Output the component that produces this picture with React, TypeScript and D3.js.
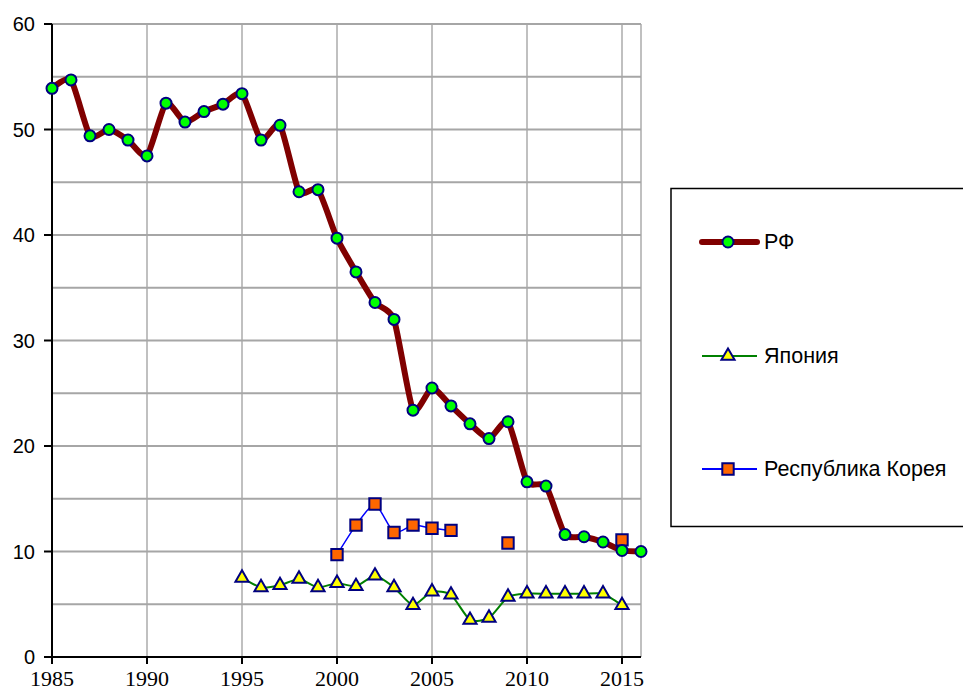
import { curveCardinal, line, range, scaleLinear, select, symbol, symbolSquare, symbolTriangle } from "d3";
import React, { useEffect, useRef } from "react";

// years on the x axis
const rfYears = range(1985, 2017);
const japanYears = range(1995, 2016);
const koreaYears = range(2000, 2016);

// series values
const rfValues = [
    53.9, 54.7, 49.4, 50.0, 49.0, 47.5, 52.5, 50.7, 51.7, 52.4, 53.4, 49.0, 50.4, 44.1, 44.3, 39.7,
    36.5, 33.6, 32.0, 23.4, 25.5, 23.8, 22.1, 20.7, 22.3, 16.6, 16.2, 11.6, 11.4, 10.9, 10.1, 10.0,
];
const japanValues = [
    7.5, 6.6, 6.8, 7.4, 6.6, 7.0, 6.7, 7.7, 6.6, 4.9, 6.2, 5.9, 3.5, 3.7, 5.7, 6.0, 6.0, 6.0, 6.0, 6.0, 4.9,
];
const koreaValues: (number | null)[] = [
    9.7, 12.5, 14.5, 11.8, 12.5, 12.2, 12.0, null, null, 10.8, null, null, null, null, null, 11.1,
];

const yTicks = [0, 10, 20, 30, 40, 50, 60];
const yGrid = range(5, 61, 5);
const xTicks = [1985, 1990, 1995, 2000, 2005, 2010, 2015];
const legendLabels = ["РФ", "Япония", "Республика Корея"];

const SANS = "'Liberation Sans', Arial, sans-serif";
const SERIF = "'Liberation Serif', 'Times New Roman', serif";

type Pt = { x: number; y: number | null };

const App: React.FC = () => {
    const svgRef = useRef<SVGSVGElement>(null);

    useEffect(() => {
        const svg = select(svgRef.current);
        svg.selectAll("*").remove();

        const x = scaleLinear().domain([1985, 2016]).range([52, 641]);
        const y = scaleLinear().domain([0, 60]).range([657, 24]);

        const g = svg.append("g");

        // vertical grid (lighter)
        g.selectAll(".vgrid")
            .data(xTicks.slice(1).concat([2016]))
            .enter()
            .append("line")
            .attr("x1", d => x(d))
            .attr("x2", d => x(d))
            .attr("y1", y(60))
            .attr("y2", y(0))
            .attr("stroke", "#c0c0c0")
            .attr("stroke-width", 2);

        // horizontal grid
        g.selectAll(".hgrid")
            .data(yGrid)
            .enter()
            .append("line")
            .attr("x1", x(1985))
            .attr("x2", x(2016))
            .attr("y1", d => y(d))
            .attr("y2", d => y(d))
            .attr("stroke", "#a6a6a6")
            .attr("stroke-width", 2);

        // axes
        g.append("line")
            .attr("x1", x(1985))
            .attr("x2", x(1985))
            .attr("y1", y(60))
            .attr("y2", y(0) + 6)
            .attr("stroke", "#000")
            .attr("stroke-width", 2);
        g.append("line")
            .attr("x1", x(1985) - 8)
            .attr("x2", x(2016))
            .attr("y1", y(0))
            .attr("y2", y(0))
            .attr("stroke", "#000")
            .attr("stroke-width", 2);

        g.selectAll(".ytick")
            .data(yTicks)
            .enter()
            .append("line")
            .attr("x1", x(1985) - 8)
            .attr("x2", x(1985))
            .attr("y1", d => y(d))
            .attr("y2", d => y(d))
            .attr("stroke", "#000")
            .attr("stroke-width", 2);
        g.selectAll(".ylabel")
            .data(yTicks)
            .enter()
            .append("text")
            .attr("x", 35)
            .attr("y", d => y(d) + 7)
            .attr("text-anchor", "end")
            .style("font-family", SANS)
            .style("font-size", "20px")
            .text(d => d);

        g.selectAll(".xtick")
            .data(xTicks)
            .enter()
            .append("line")
            .attr("x1", d => x(d))
            .attr("x2", d => x(d))
            .attr("y1", y(0))
            .attr("y2", y(0) + 7)
            .attr("stroke", "#000")
            .attr("stroke-width", 2);
        g.selectAll(".xlabel")
            .data(xTicks)
            .enter()
            .append("text")
            .attr("x", d => x(d))
            .attr("y", 686)
            .attr("text-anchor", "middle")
            .style("font-family", SERIF)
            .style("font-size", "22px")
            .text(d => d);

        const mk = line<Pt>()
            .defined(d => d.y != null)
            .x(d => x(d.x))
            .y(d => y(d.y as number))
            .curve(curveCardinal.tension(0.4));

        const rf: Pt[] = rfYears.map((yr, i) => ({ x: yr, y: rfValues[i] }));
        const jp: Pt[] = japanYears.map((yr, i) => ({ x: yr, y: japanValues[i] }));
        const kr: Pt[] = koreaYears.map((yr, i) => ({ x: yr, y: koreaValues[i] }));

        const tri = symbol().type(symbolTriangle).size(75)();
        const sq = symbol().type(symbolSquare).size(130)();

        // Korea
        g.append("path")
            .datum(kr)
            .attr("fill", "none")
            .attr("stroke", "#0000ff")
            .attr("stroke-width", 1.5)
            .attr("d", mk as any);
        // Japan
        g.append("path")
            .datum(jp)
            .attr("fill", "none")
            .attr("stroke", "#008000")
            .attr("stroke-width", 2)
            .attr("d", mk as any);
        // RF
        g.append("path")
            .datum(rf)
            .attr("fill", "none")
            .attr("stroke", "#800000")
            .attr("stroke-width", 6)
            .attr("stroke-linejoin", "round")
            .attr("d", mk as any);

        g.selectAll(".tri")
            .data(jp)
            .enter()
            .append("path")
            .attr("d", tri)
            .attr("transform", d => `translate(${x(d.x)},${y(d.y as number)})`)
            .attr("fill", "#ffff00")
            .attr("stroke", "#000080")
            .attr("stroke-width", 2);

        g.selectAll(".sq")
            .data(kr.filter(d => d.y != null))
            .enter()
            .append("path")
            .attr("d", sq)
            .attr("transform", d => `translate(${x(d.x)},${y(d.y as number)})`)
            .attr("fill", "#ff6600")
            .attr("stroke", "#000080")
            .attr("stroke-width", 2);

        g.selectAll(".dot")
            .data(rf)
            .enter()
            .append("circle")
            .attr("cx", d => x(d.x))
            .attr("cy", d => y(d.y as number))
            .attr("r", 5.5)
            .attr("fill", "#00ff00")
            .attr("stroke", "#000080")
            .attr("stroke-width", 2);

        // legend
        const lg = svg.append("g");
        lg.append("rect")
            .attr("x", 671)
            .attr("y", 188.5)
            .attr("width", 300)
            .attr("height", 338)
            .attr("fill", "#fff")
            .attr("stroke", "#000")
            .attr("stroke-width", 1.5);

        const rows = [242, 356, 469];
        const colors = ["#800000", "#008000", "#0000ff"];
        legendLabels.forEach((label, i) => {
            const cy = rows[i];
            lg.append("line")
                .attr("x1", 702)
                .attr("x2", 757)
                .attr("y1", cy)
                .attr("y2", cy)
                .attr("stroke", colors[i])
                .attr("stroke-width", i === 0 ? 6 : 2)
                .attr("stroke-linecap", i === 0 ? "round" : "butt");
            if (i === 0) {
                lg.append("circle")
                    .attr("cx", 728)
                    .attr("cy", cy)
                    .attr("r", 5.5)
                    .attr("fill", "#00ff00")
                    .attr("stroke", "#000080")
                    .attr("stroke-width", 2);
            } else {
                lg.append("path")
                    .attr("d", i === 1 ? tri : sq)
                    .attr("transform", `translate(728,${cy})`)
                    .attr("fill", i === 1 ? "#ffff00" : "#ff6600")
                    .attr("stroke", "#000080")
                    .attr("stroke-width", 2);
            }
            lg.append("text")
                .attr("x", 764)
                .attr("y", cy + 7)
                .style("font-family", SANS)
                .style("font-size", "21.5px")
                .attr("fill", "#000")
                .text(label);
        });
    }, []);

    return (
        <svg
            ref={svgRef}
            width={963}
            height={691}
            style={{ position: "absolute", left: 0, top: 0, background: "#fff" }}
        ></svg>
    );
};

export default App;
